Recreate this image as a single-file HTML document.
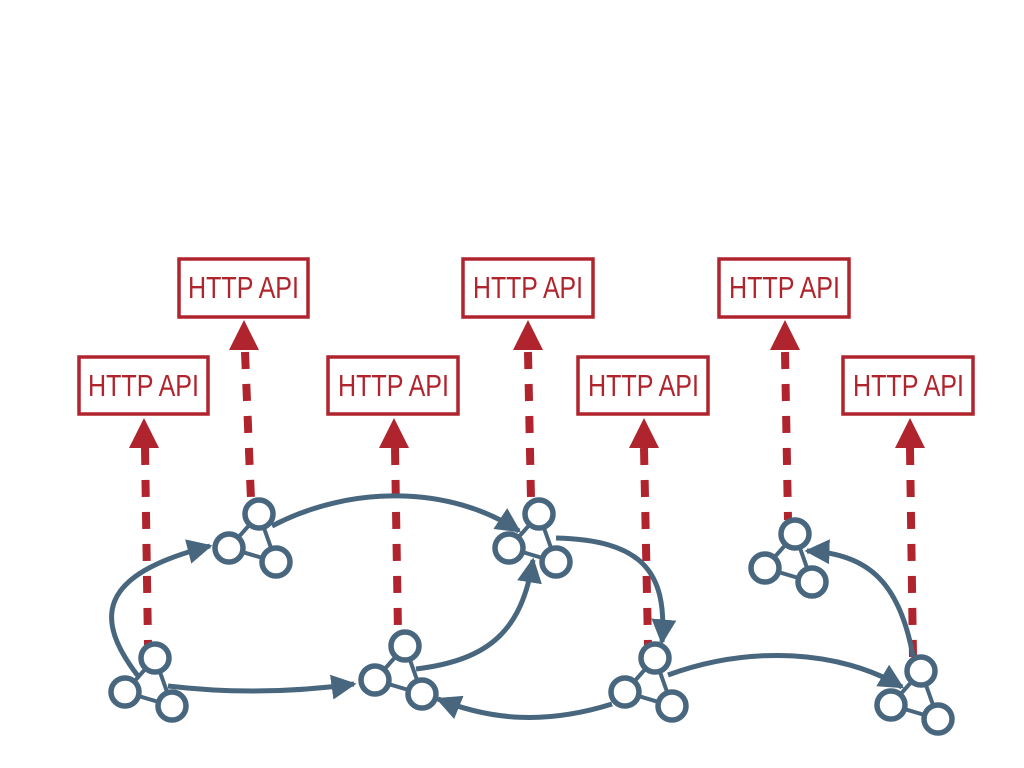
<!DOCTYPE html>
<html><head><meta charset="utf-8"><style>
html,body{margin:0;padding:0;background:#fff;}
svg{display:block;}
</style></head><body>
<svg width="1024" height="768" viewBox="0 0 1024 768" xmlns="http://www.w3.org/2000/svg">
<defs>
<marker id="bh" viewBox="0 0 10 10" refX="9" refY="5" markerWidth="5" markerHeight="5" markerUnits="strokeWidth" orient="auto">
<path d="M0,0 L10,5 L0,10 Z" fill="#48677f"/>
</marker>
</defs>
<g fill="#fff" stroke="#b0242e" stroke-width="3.5">
<rect x="79" y="357" width="129" height="57"/>
<rect x="179" y="259" width="129" height="58"/>
<rect x="328" y="357" width="130" height="57"/>
<rect x="463" y="259" width="130" height="58"/>
<rect x="578" y="357" width="130" height="57"/>
<rect x="719" y="259" width="130" height="58"/>
<rect x="843" y="357" width="130" height="57"/>
</g>
<g fill="#b0242e" font-family="Liberation Sans Narrow, Liberation Sans, sans-serif" font-size="31">
<text x="88" y="396" textLength="111" lengthAdjust="spacingAndGlyphs">HTTP API</text>
<text x="188" y="298" textLength="111" lengthAdjust="spacingAndGlyphs">HTTP API</text>
<text x="338" y="396" textLength="111" lengthAdjust="spacingAndGlyphs">HTTP API</text>
<text x="473" y="298" textLength="110" lengthAdjust="spacingAndGlyphs">HTTP API</text>
<text x="588" y="396" textLength="111" lengthAdjust="spacingAndGlyphs">HTTP API</text>
<text x="729" y="298" textLength="111" lengthAdjust="spacingAndGlyphs">HTTP API</text>
<text x="853" y="396" textLength="111" lengthAdjust="spacingAndGlyphs">HTTP API</text>
</g>
<g stroke="#b0242e" stroke-width="8" stroke-dasharray="17 15" fill="none">
<line x1="145" y1="448" x2="148" y2="645"/>
<line x1="245" y1="352" x2="251" y2="500"/>
<line x1="395" y1="448" x2="398" y2="632"/>
<line x1="528" y1="352" x2="531" y2="500"/>
<line x1="644" y1="448" x2="648" y2="645"/>
<line x1="785" y1="352" x2="788" y2="520"/>
<line x1="910" y1="448" x2="913" y2="657"/>
</g>
<g fill="#b0242e">
<path d="M144,418 L159,448 L129,448 Z"/>
<path d="M244,320 L259,350 L229,350 Z"/>
<path d="M394,418 L409,448 L379,448 Z"/>
<path d="M528,320 L543,350 L513,350 Z"/>
<path d="M644,418 L659,448 L629,448 Z"/>
<path d="M785,320 L800,350 L770,350 Z"/>
<path d="M910,418 L925,448 L895,448 Z"/>
</g>
<g stroke="#48677f" stroke-width="5" fill="none" marker-end="url(#bh)">
<path d="M138,676 C95,620 95,575 210,546"/>
<path d="M168,686 Q260,697 354,684"/>
<path d="M272,526 C350,485 450,485 519,531"/>
<path d="M416,669 C490,660 522,630 533,560"/>
<path d="M556,538 C640,540 668,570 662,642"/>
<path d="M612,704 C545,725 490,720 438,699"/>
<path d="M668,675 C750,645 840,650 902,687"/>
<path d="M913,656 C900,585 870,553 807,551"/>
</g>
<g stroke="#48677f" stroke-width="5.5" fill="#fff">
<g transform="translate(155,658)"><path d="M0,0 L-30,34 L17,48 Z" fill="none" stroke-width="4"/><circle cx="0" cy="0" r="14"/><circle cx="-30" cy="34" r="14"/><circle cx="17" cy="48" r="14"/></g>
<g transform="translate(259,514)"><path d="M0,0 L-30,34 L17,48 Z" fill="none" stroke-width="4"/><circle cx="0" cy="0" r="14"/><circle cx="-30" cy="34" r="14"/><circle cx="17" cy="48" r="14"/></g>
<g transform="translate(405,646)"><path d="M0,0 L-30,34 L17,48 Z" fill="none" stroke-width="4"/><circle cx="0" cy="0" r="14"/><circle cx="-30" cy="34" r="14"/><circle cx="17" cy="48" r="14"/></g>
<g transform="translate(539,514)"><path d="M0,0 L-30,34 L17,48 Z" fill="none" stroke-width="4"/><circle cx="0" cy="0" r="14"/><circle cx="-30" cy="34" r="14"/><circle cx="17" cy="48" r="14"/></g>
<g transform="translate(655,658)"><path d="M0,0 L-30,34 L17,48 Z" fill="none" stroke-width="4"/><circle cx="0" cy="0" r="14"/><circle cx="-30" cy="34" r="14"/><circle cx="17" cy="48" r="14"/></g>
<g transform="translate(795,534)"><path d="M0,0 L-30,34 L17,48 Z" fill="none" stroke-width="4"/><circle cx="0" cy="0" r="14"/><circle cx="-30" cy="34" r="14"/><circle cx="17" cy="48" r="14"/></g>
<g transform="translate(921,671)"><path d="M0,0 L-30,34 L17,48 Z" fill="none" stroke-width="4"/><circle cx="0" cy="0" r="14"/><circle cx="-30" cy="34" r="14"/><circle cx="17" cy="48" r="14"/></g>
</g>
</svg>
</body></html>
